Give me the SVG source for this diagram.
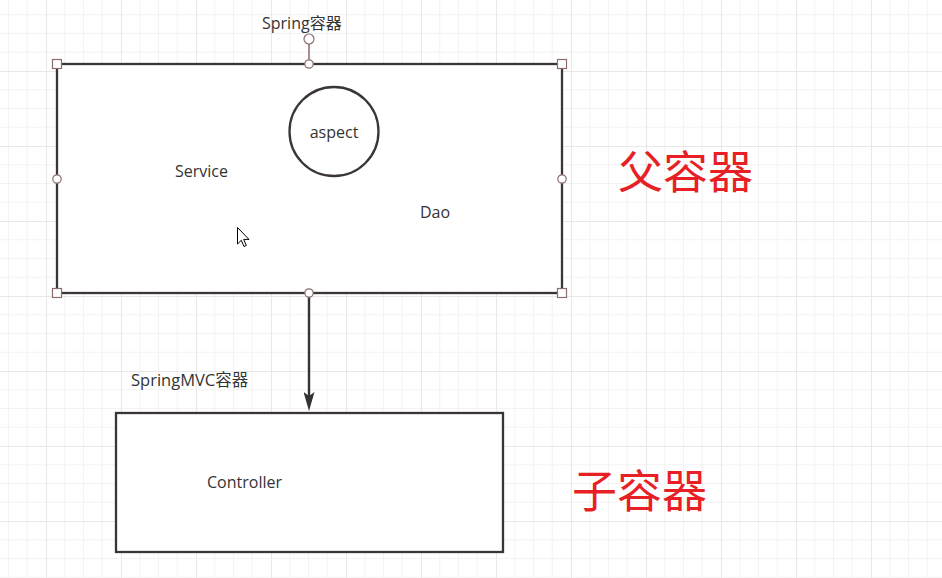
<svg xmlns="http://www.w3.org/2000/svg" width="942" height="578" viewBox="0 0 942 578">
  <style>
    .box { fill: #ffffff; stroke: #3b3535; stroke-width: 2.3; }
    .lbl { font-family: "Open Sans", "Noto Sans CJK SC", sans-serif; font-size: 16px; fill: #333333; }
    .mvc { font-size: 16.5px; }
    .big { font-family: "Noto Sans CJK SC", "Noto Sans", sans-serif; font-size: 45px; fill: #e81f25; }
    .handle { fill: #ffffff; stroke: #8c6d6d; stroke-width: 1.2; }
    .conn { fill: none; stroke: #333333; stroke-width: 2.4; }
  </style>
  <defs>
    <pattern id="grid" patternUnits="userSpaceOnUse" x="46" y="71" width="75" height="75">
      <path d="M18.75 0V75M37.5 0V75M56.25 0V75M0 18.75H75M0 37.5H75M0 56.25H75" stroke="#f3f3f3" stroke-width="1" fill="none"/>
      <path d="M0.5 0V75M0 0.5H75" stroke="#e8e8e8" stroke-width="1" fill="none"/>
    </pattern>
    <marker id="arrow" markerUnits="userSpaceOnUse" viewBox="0 0 19 11" markerWidth="19" markerHeight="11" refX="11" refY="5.5" orient="auto">
      <path d="M0,0 L19,5.5 L0,11 L4,5.5 Z" fill="#333333"/>
    </marker>
  </defs>

  <rect x="0" y="0" width="942" height="578" fill="#ffffff"/>
  <rect x="0" y="0" width="942" height="578" fill="url(#grid)"/>

  <g id="spring-container">
    <rect class="box" x="57" y="64" width="505" height="229"/>
    <text class="lbl" x="262" y="29">Spring容器</text>
    <text class="lbl" x="175" y="177">Service</text>
    <text class="lbl" x="420" y="218">Dao</text>
  </g>

  <g id="aspect">
    <circle class="box" cx="334" cy="131.5" r="44.5"/>
    <text class="lbl" x="334" y="138" text-anchor="middle">aspect</text>
  </g>

  <g id="selection-handles">
    <line x1="309" y1="44" x2="309" y2="64" stroke="#8c6d6d" stroke-width="1.5"/>
    <circle class="handle" cx="309" cy="39" r="5"/>
    <rect class="handle" x="52.5" y="59.5" width="9" height="9"/>
    <rect class="handle" x="557.5" y="59.5" width="9" height="9"/>
    <rect class="handle" x="52.5" y="288.5" width="9" height="9"/>
    <rect class="handle" x="557.5" y="288.5" width="9" height="9"/>
    <circle class="handle" cx="309" cy="64" r="4.2"/>
    <circle class="handle" cx="57" cy="179" r="4.2"/>
    <circle class="handle" cx="562" cy="179" r="4.2"/>
  </g>

  <g id="springmvc-container">
    <rect class="box" x="116" y="413" width="387" height="139"/>
    <text class="lbl mvc" x="131" y="386">SpringMVC容器</text>
    <text class="lbl" x="207" y="488">Controller</text>
  </g>

  <g id="connectors">
    <line class="conn" x1="309" y1="293" x2="309" y2="403" marker-end="url(#arrow)"/>
  </g>
  <circle class="handle" cx="309" cy="293" r="4.2"/>

  <g id="parent-label">
    <text class="big" x="618" y="189">父容器</text>
  </g>
  <g id="child-label">
    <text class="big" x="572" y="508">子容器</text>
  </g>

  <g id="cursor">
    <path d="M237.5,227.5 L237.5,244 L241.3,240.3 L244,246.5 L246.3,245.5 L243.7,239.4 L249,239.4 Z" fill="#ffffff" stroke="#000000" stroke-width="1" stroke-linejoin="round"/>
  </g>
</svg>
